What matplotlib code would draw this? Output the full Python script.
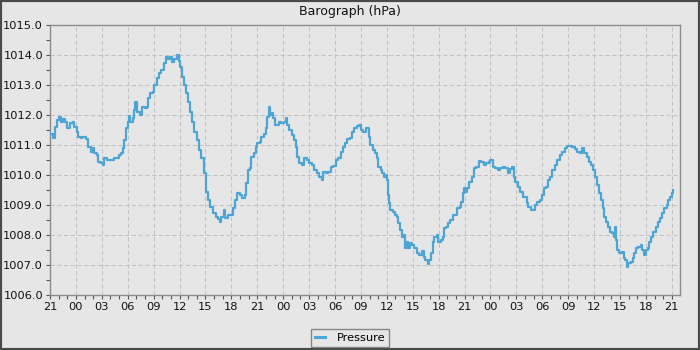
import matplotlib
matplotlib.use("Agg")
import matplotlib.pyplot as plt
from matplotlib.patches import Rectangle
from matplotlib.ticker import MultipleLocator, FormatStrFormatter

BG, FRAME, AXC, GRIDC = "#e6e6e6", "#4a4a4a", "#8c8c8c", "#c2c2c2"
LINE = "#4aa6d6"

# hours since the first 21:00 label, and pressure (hPa)
hours = [
    0.1, 0.4, 0.6, 0.8, 1.0, 1.24, 1.55, 1.74, 2.0, 2.3, 2.63, 2.83, 3.1, 3.3,
    3.56, 3.76, 3.99, 4.2, 4.45, 4.72, 4.96, 5.15, 5.42, 5.61, 5.88, 6.1, 6.3,
    6.58, 6.97, 7.36, 7.67, 7.94, 8.2, 8.4, 8.6, 8.79, 8.98, 9.1, 9.29, 9.56,
    9.7, 9.87, 10.07, 10.37, 10.65, 11.03, 11.2, 11.34, 11.6, 11.9, 12.1, 12.4,
    12.66, 12.9, 13.16, 13.43, 13.67, 13.94, 14.13, 14.4, 14.71, 14.9, 15.1,
    15.3, 15.5, 15.76, 15.99, 16.26, 16.45, 16.72, 17.03, 17.3, 17.5, 17.8,
    18.02, 18.29, 18.56, 18.87, 19.18, 19.45, 19.64, 19.84, 20.1, 20.3, 20.6,
    20.9, 21.2, 21.4, 21.66, 21.97, 22.24, 22.55, 22.74, 22.94, 23.2, 23.32,
    23.6, 23.83, 24.0, 24.3, 24.48, 24.75, 24.99, 25.18, 25.34, 25.49, 25.65,
    25.84, 26.03, 26.23, 26.5, 26.8, 27.08, 27.3, 27.47, 27.66, 27.97, 28.24,
    28.43, 28.63, 28.86, 29.13, 29.4, 29.71, 29.98, 30.29, 30.6, 30.87, 31.18,
    31.45, 31.65, 31.92, 32.23, 32.5, 32.8, 33.08, 33.39, 33.66, 33.9, 34.16,
    34.43, 34.74, 35.0, 35.25, 35.52, 35.8, 36.0, 36.3, 36.56,
    36.9, 37.1, 37.38, 37.65, 37.84, 38.03, 38.27, 38.46, 38.65, 38.85, 39.0,
    39.12, 39.27, 39.42, 39.7, 39.9, 40.16, 40.35, 40.54, 40.74, 40.93, 41.12,
    41.32, 41.51, 41.7, 41.93, 42.2, 42.47, 42.78, 43.05, 43.25, 43.48, 43.75,
    43.94, 44.14, 44.33, 44.52, 44.79, 44.98, 45.22, 45.49, 45.68, 45.88,
    46.14, 46.37, 46.64, 46.92, 47.15, 47.42, 47.6, 47.8, 47.92, 48.07, 48.3,
    48.57, 48.85, 49.08, 49.35, 49.63, 49.93, 50.2, 50.5, 50.78, 51.0, 51.28,
    51.55, 51.86, 52.13, 52.44, 52.7, 53.0, 53.29, 53.52, 53.71, 53.9, 54.17,
    54.44, 54.75,
    55.19, 55.38, 55.65, 55.96, 56.15, 56.42, 56.73, 56.92, 57.19, 57.42,
    57.62, 57.89, 58.16, 58.47, 58.74, 59.05, 59.32, 59.63, 59.9, 60.2, 60.47,
    60.78, 61.05, 61.36, 61.63, 61.86, 62.14, 62.4, 62.64, 62.9, 63.1, 63.3,
    63.56, 63.8, 63.99, 64.18, 64.38, 64.57, 64.84, 65.1, 65.3, 65.41, 65.53,
    65.69, 65.92, 66.19, 66.42, 66.58, 66.77, 66.96, 67.23, 67.46, 67.66,
    67.85, 68.12, 68.39, 68.58, 68.78, 68.97, 69.2, 69.4, 69.59, 69.86, 70.13,
    70.36, 70.63, 70.9, 71.13, 71.4, 71.6, 71.79, 71.98, 72.14,
]
pressure = [
    1011.36, 1011.22, 1011.61, 1011.83, 1011.94, 1011.78, 1011.87, 1011.78,
    1011.56, 1011.72, 1011.78, 1011.59, 1011.44, 1011.28, 1011.22, 1011.28,
    1011.28, 1011.19, 1010.94, 1010.78, 1010.89, 1010.72, 1010.67, 1010.44,
    1010.39, 1010.33, 1010.56, 1010.5, 1010.5, 1010.56, 1010.56, 1010.67,
    1010.72, 1010.89, 1011.17, 1011.56, 1011.78, 1011.97, 1011.78, 1011.89,
    1012.17, 1012.44, 1012.11, 1012.0, 1012.28, 1012.22, 1012.28, 1012.56,
    1012.72, 1012.78, 1013.0, 1013.22, 1013.39, 1013.5, 1013.72, 1013.94,
    1013.86, 1013.92, 1013.78, 1013.86, 1014.0, 1013.81, 1013.61, 1013.28,
    1013.0, 1012.72, 1012.44, 1012.11, 1011.78, 1011.44, 1011.17, 1010.83,
    1010.56, 1010.06,
    1009.44, 1009.17, 1008.94, 1008.72, 1008.61, 1008.52, 1008.44, 1008.61,
    1008.83, 1008.56, 1008.67, 1008.67, 1008.89, 1009.17, 1009.39, 1009.33,
    1009.22, 1009.33, 1009.72, 1010.17, 1010.22, 1010.61, 1010.72, 1010.94,
    1011.06, 1011.11, 1011.28, 1011.37, 1011.56, 1011.94, 1012.28, 1012.0,
    1012.06, 1011.89, 1011.67, 1011.67, 1011.78, 1011.72, 1011.78, 1011.89,
    1011.67, 1011.5, 1011.33, 1011.17, 1010.94, 1010.61, 1010.39, 1010.33,
    1010.56, 1010.5, 1010.39, 1010.33, 1010.17, 1010.06, 1009.94, 1009.83,
    1010.11, 1010.06, 1010.11, 1010.28, 1010.3, 1010.5, 1010.56, 1010.78,
    1010.92, 1011.08, 1011.2, 1011.24, 1011.44, 1011.56, 1011.64, 1011.67,
    1011.5, 1011.44, 1011.56,
    1011.28, 1011.0, 1010.83, 1010.72, 1010.56, 1010.28, 1010.17, 1010.06,
    1009.94, 1010.0, 1009.83, 1009.33, 1009.06, 1008.83, 1008.78, 1008.67,
    1008.61, 1008.39, 1008.17, 1007.94, 1008.0, 1007.56, 1007.78, 1007.56,
    1007.72, 1007.67, 1007.56, 1007.39, 1007.33, 1007.48, 1007.28, 1007.17,
    1007.03, 1007.17, 1007.39, 1007.78, 1007.94, 1008.0, 1007.78, 1007.83,
    1007.94, 1008.22, 1008.28, 1008.39, 1008.5, 1008.67, 1008.67, 1008.89,
    1008.94, 1009.11, 1009.39, 1009.56, 1009.44, 1009.56, 1009.78, 1009.94,
    1010.22, 1010.28, 1010.48, 1010.44, 1010.33, 1010.39, 1010.44, 1010.5,
    1010.28, 1010.22, 1010.17, 1010.22, 1010.26, 1010.22, 1010.08, 1010.19,
    1010.28, 1009.94, 1009.78, 1009.61, 1009.44, 1009.28,
    1009.06, 1008.94, 1008.83, 1008.83, 1009.0, 1009.11, 1009.17, 1009.33,
    1009.56, 1009.61, 1009.83, 1009.94, 1010.17, 1010.33, 1010.5, 1010.67,
    1010.78, 1010.89, 1010.97, 1010.97, 1010.94, 1010.86, 1010.78, 1010.72,
    1010.89, 1010.72, 1010.61, 1010.44, 1010.33, 1010.17, 1009.94, 1009.67,
    1009.39, 1009.17, 1008.89, 1008.61, 1008.44, 1008.28, 1008.11, 1008.06,
    1007.94, 1008.28, 1007.83, 1007.5, 1007.39, 1007.44, 1007.22, 1007.17,
    1006.94, 1007.06, 1007.11, 1007.22, 1007.39, 1007.56, 1007.61, 1007.67,
    1007.5, 1007.33, 1007.5, 1007.56, 1007.78, 1007.94, 1008.11, 1008.28,
    1008.44, 1008.56, 1008.72, 1008.89, 1009.0, 1009.17, 1009.28, 1009.39,
    1009.5,
]

tick_labels = ["21", "00", "03", "06", "09", "12", "15", "18"] * 3 + ["21"]

fig = plt.figure(figsize=(7, 3.5), dpi=100, facecolor=BG)
ax = fig.add_axes([50 / 700, 55 / 350, 630 / 700, 270 / 350])
ax.set_facecolor(BG)

ax.plot(hours, pressure, color=LINE, lw=1.6, drawstyle="steps-post",
        label="Pressure", zorder=3)

ax.set_xlim(0, 72.95)
ax.set_ylim(1006.0, 1015.0)
ax.set_xticks([3 * i for i in range(len(tick_labels))])
ax.set_xticklabels(tick_labels)
ax.xaxis.set_minor_locator(MultipleLocator(1))
ax.yaxis.set_major_locator(MultipleLocator(1))
ax.yaxis.set_minor_locator(MultipleLocator(0.5))
ax.yaxis.set_major_formatter(FormatStrFormatter("%.1f"))

for s in ax.spines.values():
    s.set_color(AXC)
    s.set_linewidth(1)
ax.tick_params(which="both", direction="out", length=3, width=0.8,
               color="#555555", labelsize=8.2, labelcolor="#111111", pad=2)
ax.grid(True, which="major", color=GRIDC, lw=0.75, ls=(0, (4, 2.5)))
ax.set_axisbelow(True)

fig.text(0.5, 1 - 12 / 350, "Barograph (hPa)", ha="center", va="center",
         fontsize=9, color="#111111")

leg = fig.legend(loc="lower center", bbox_to_anchor=(0.5, 0.0), ncol=1,
                 fontsize=8.2, frameon=True, fancybox=False, handlelength=0.9,
                 handletextpad=1.0, borderpad=0.35, borderaxespad=0.3)
leg.get_frame().set_edgecolor("#6e6e6e")
leg.get_frame().set_facecolor(BG)
leg.get_frame().set_linewidth(1)
leg.get_lines()[0].set_linewidth(2.2)

fig.patches.append(Rectangle((0, 0), 1, 1, transform=fig.transFigure,
                             fill=False, edgecolor=FRAME, lw=3))

fig.savefig("out.png", dpi=100, facecolor=BG)
